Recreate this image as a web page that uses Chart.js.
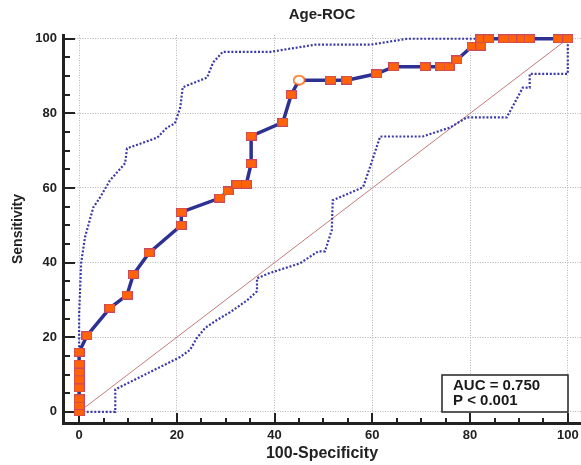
<!DOCTYPE html>
<html>
<head>
<meta charset="utf-8">
<script src="https://cdn.jsdelivr.net/npm/chart.js@4.4.1/dist/chart.umd.min.js"></script>
<style>
  html, body { margin: 0; padding: 0; background: #fff; }
  #wrap { width: 581px; height: 465px; }
</style>
</head>
<body>
<div id="wrap"><canvas id="roc" width="581" height="465"></canvas></div>
<script>
// ROC curve: 100-Specificity (x) and Sensitivity (y)
const rocX = [0, 0, 0, 0, 0, 0, 0, 0, 1.6, 6.3, 9.8, 11.1, 14.3, 20.9, 20.9, 28.8, 30.5, 32.3, 34.2,
  35.2, 35.2, 41.7, 43.4, 45.0, 51.5, 54.8, 60.9, 64.4, 70.8, 74.0, 75.7, 77.3,
  80.4, 82.2, 82.2, 83.8, 86.9, 88.8, 90.6, 92.1, 98.0, 100];
const rocY = [0, 1.7, 3.5, 6.4, 8.6, 10.7, 12.8, 16.0, 20.4, 27.8, 31.3, 36.8, 42.6, 50.0, 53.5, 57.3, 59.2, 61.0, 61.0,
  66.5, 73.9, 77.6, 85.0, 88.9, 88.9, 88.9, 90.6, 92.5, 92.5, 92.5, 92.5, 94.3,
  98.0, 98.0, 100, 100, 100, 100, 100, 100, 100, 100];
// optimal cut-off, drawn as open circle
const cutoffX = 45.0;

// 95% confidence bounds
const upperX = [0, 0, 0.4, 1.2, 2.9, 4.3, 6.3, 9.4, 9.8, 16, 18, 19.6, 20.7, 21.2, 26.2, 27.4, 29.4, 39.2, 48.3, 59.6, 67.2, 100];
const upperY = [0, 26, 39.8, 46.8, 54.8, 57.5, 62, 66.6, 70.6, 73.5, 76.2, 77.3, 81.6, 87, 89.6, 93.6, 96.5, 96.5, 98.4, 98.4, 100, 100];
const lowerX = [0, 7.4, 7.4, 20.7, 22.7, 24.1, 25.8, 28.2, 30.9, 34.4, 36.4, 36.4, 39, 45.2, 48.9, 50.3, 51.7, 51.9,
  58.1, 59.5, 61.6, 70.3, 75.9, 79.3, 87.5, 90.8, 92.2, 92.2, 100, 100];
const lowerY = [0, 0, 6.0, 14.7, 16.6, 19.8, 22.5, 24.6, 26.7, 29.9, 32.3, 35.8, 37.2, 39.8, 43, 43, 48.7, 56.7,
  60.2, 65.5, 73.8, 73.8, 76.2, 78.9, 78.9, 86.9, 86.9, 90.6, 90.6, 100];

// reference diagonal
const diagX = [0, 100];
const diagY = [0, 100];

const tickValues = [0, 20, 40, 60, 80, 100];
const statLines = ['AUC = 0.750', 'P < 0.001'];

const FONT = "'Liberation Sans', Arial, sans-serif";

function toPoints(xs, ys) {
  return xs.map((v, i) => ({ x: v, y: ys[i] }));
}

// marker images
function makeSquare() {
  const c = document.createElement('canvas');
  c.width = 11; c.height = 9;
  const g = c.getContext('2d');
  g.fillStyle = '#ff6308';
  g.fillRect(0, 0, 11, 9);
  g.strokeStyle = '#c84a62';
  g.lineWidth = 1;
  g.strokeRect(0.5, 0.5, 10, 8);
  return c;
}
function makeCircle() {
  const c = document.createElement('canvas');
  c.width = 13; c.height = 11;
  const g = c.getContext('2d');
  g.beginPath();
  g.ellipse(6.5, 5.5, 5.5, 4.5, 0, 0, Math.PI * 2);
  g.fillStyle = '#fff';
  g.fill();
  g.strokeStyle = '#ff6308';
  g.lineWidth = 1.6;
  g.stroke();
  return c;
}
const squareImg = makeSquare();
const circleImg = makeCircle();

// inward minor/major tick marks every 5
const axisTicks = {
  id: 'axisTicks',
  beforeDatasetsDraw(chart) {
    const { ctx, chartArea, scales: { x, y } } = chart;
    ctx.save();
    ctx.strokeStyle = '#222';
    ctx.lineWidth = 2;
    for (let v = 0; v <= 100; v += 5) {
      const major = v % 20 === 0;
      const px = Math.round(x.getPixelForValue(v));
      const py = Math.round(y.getPixelForValue(v));
      ctx.beginPath();
      ctx.moveTo(px, chartArea.bottom);
      ctx.lineTo(px, chartArea.bottom - (major ? 10 : 5));
      ctx.moveTo(chartArea.left, py);
      ctx.lineTo(chartArea.left + (major ? 12 : 7), py);
      ctx.stroke();
    }
    ctx.restore();
  }
};

// AUC box in lower right corner
const statBox = {
  id: 'statBox',
  afterDraw(chart) {
    const { ctx, scales: { x, y } } = chart;
    const right = Math.round(x.getPixelForValue(100));
    const bottom = Math.round(y.getPixelForValue(0));
    const w = 126, h = 37;
    ctx.save();
    ctx.fillStyle = '#fff';
    ctx.fillRect(right - w, bottom - h, w, h);
    ctx.strokeStyle = '#222';
    ctx.lineWidth = 1.5;
    ctx.strokeRect(right - w, bottom - h, w, h);
    ctx.fillStyle = '#1a1a1a';
    ctx.font = 'bold 15px ' + FONT;
    ctx.textBaseline = 'middle';
    statLines.forEach((t, i) => {
      ctx.fillText(t, right - w + 11, bottom - h + 11 + i * 15);
    });
    ctx.restore();
  }
};

const gridStyle = {
  color: '#b5b5b5',
  lineWidth: 1,
  drawTicks: false
};

new Chart(document.getElementById('roc'), {
  type: 'scatter',
  data: {
    datasets: [
      {
        data: toPoints(rocX, rocY),
        showLine: true,
        borderColor: '#2d3192',
        borderWidth: 3.5,
        tension: 0,
        pointRadius: 5,
        pointStyle: (c) => (rocX[c.dataIndex] === cutoffX && rocY[c.dataIndex] > 88 ? circleImg : squareImg),
        clip: false,
        order: 0
      },
      {
        data: toPoints(upperX, upperY),
        showLine: true,
        borderColor: '#3a3aaa',
        borderWidth: 2.2,
        borderDash: [2, 1.8],
        pointRadius: 0,
        order: 1
      },
      {
        data: toPoints(lowerX, lowerY),
        showLine: true,
        borderColor: '#3a3aaa',
        borderWidth: 2.2,
        borderDash: [2, 1.8],
        pointRadius: 0,
        order: 2
      },
      {
        data: toPoints(diagX, diagY),
        showLine: true,
        borderColor: '#c47a7a',
        borderWidth: 1,
        pointRadius: 0,
        order: 3
      }
    ]
  },
  options: {
    responsive: false,
    animation: false,
    layout: { padding: 0, autoPadding: false },
    plugins: {
      legend: { display: false },
      tooltip: { enabled: false },
      title: {
        display: true,
        text: 'Age-ROC',
        fullSize: false,
        color: '#222',
        font: { family: FONT, size: 15, weight: 'bold' },
        padding: { top: 6, bottom: 11 }
      }
    },
    scales: {
      x: {
        type: 'linear',
        min: -3.3,
        max: 102.7,
        afterBuildTicks: (s) => { s.ticks = tickValues.map(v => ({ value: v })); },
        afterFit: (s) => { s.height = 42; s.paddingLeft = 0; s.paddingRight = 0; },
        grid: gridStyle,
        border: { display: true, color: '#222', width: 3, dash: [1, 1.5] },
        ticks: {
          color: '#222',
          padding: 5,
          font: { family: FONT, size: 13, weight: 'bold' }
        },
        title: {
          display: true,
          text: '100-Specificity',
          color: '#222',
          font: { family: FONT, size: 16, weight: 'bold' },
          padding: { top: 0, bottom: 1.4 }
        }
      },
      y: {
        type: 'linear',
        min: -3,
        max: 101,
        afterBuildTicks: (s) => { s.ticks = tickValues.map(v => ({ value: v })); },
        afterFit: (s) => { s.width = 63; s.paddingTop = 0; s.paddingBottom = 0; },
        grid: gridStyle,
        border: { display: true, color: '#222', width: 3, dash: [1, 1.5] },
        ticks: {
          color: '#222',
          padding: 6,
          font: { family: FONT, size: 13, weight: 'bold' }
        },
        title: {
          display: true,
          text: 'Sensitivity',
          color: '#222',
          font: { family: FONT, size: 14, weight: 'bold' },
          padding: { top: 9.6, bottom: 0 }
        }
      }
    }
  },
  plugins: [axisTicks, statBox]
});
</script>
</body>
</html>
